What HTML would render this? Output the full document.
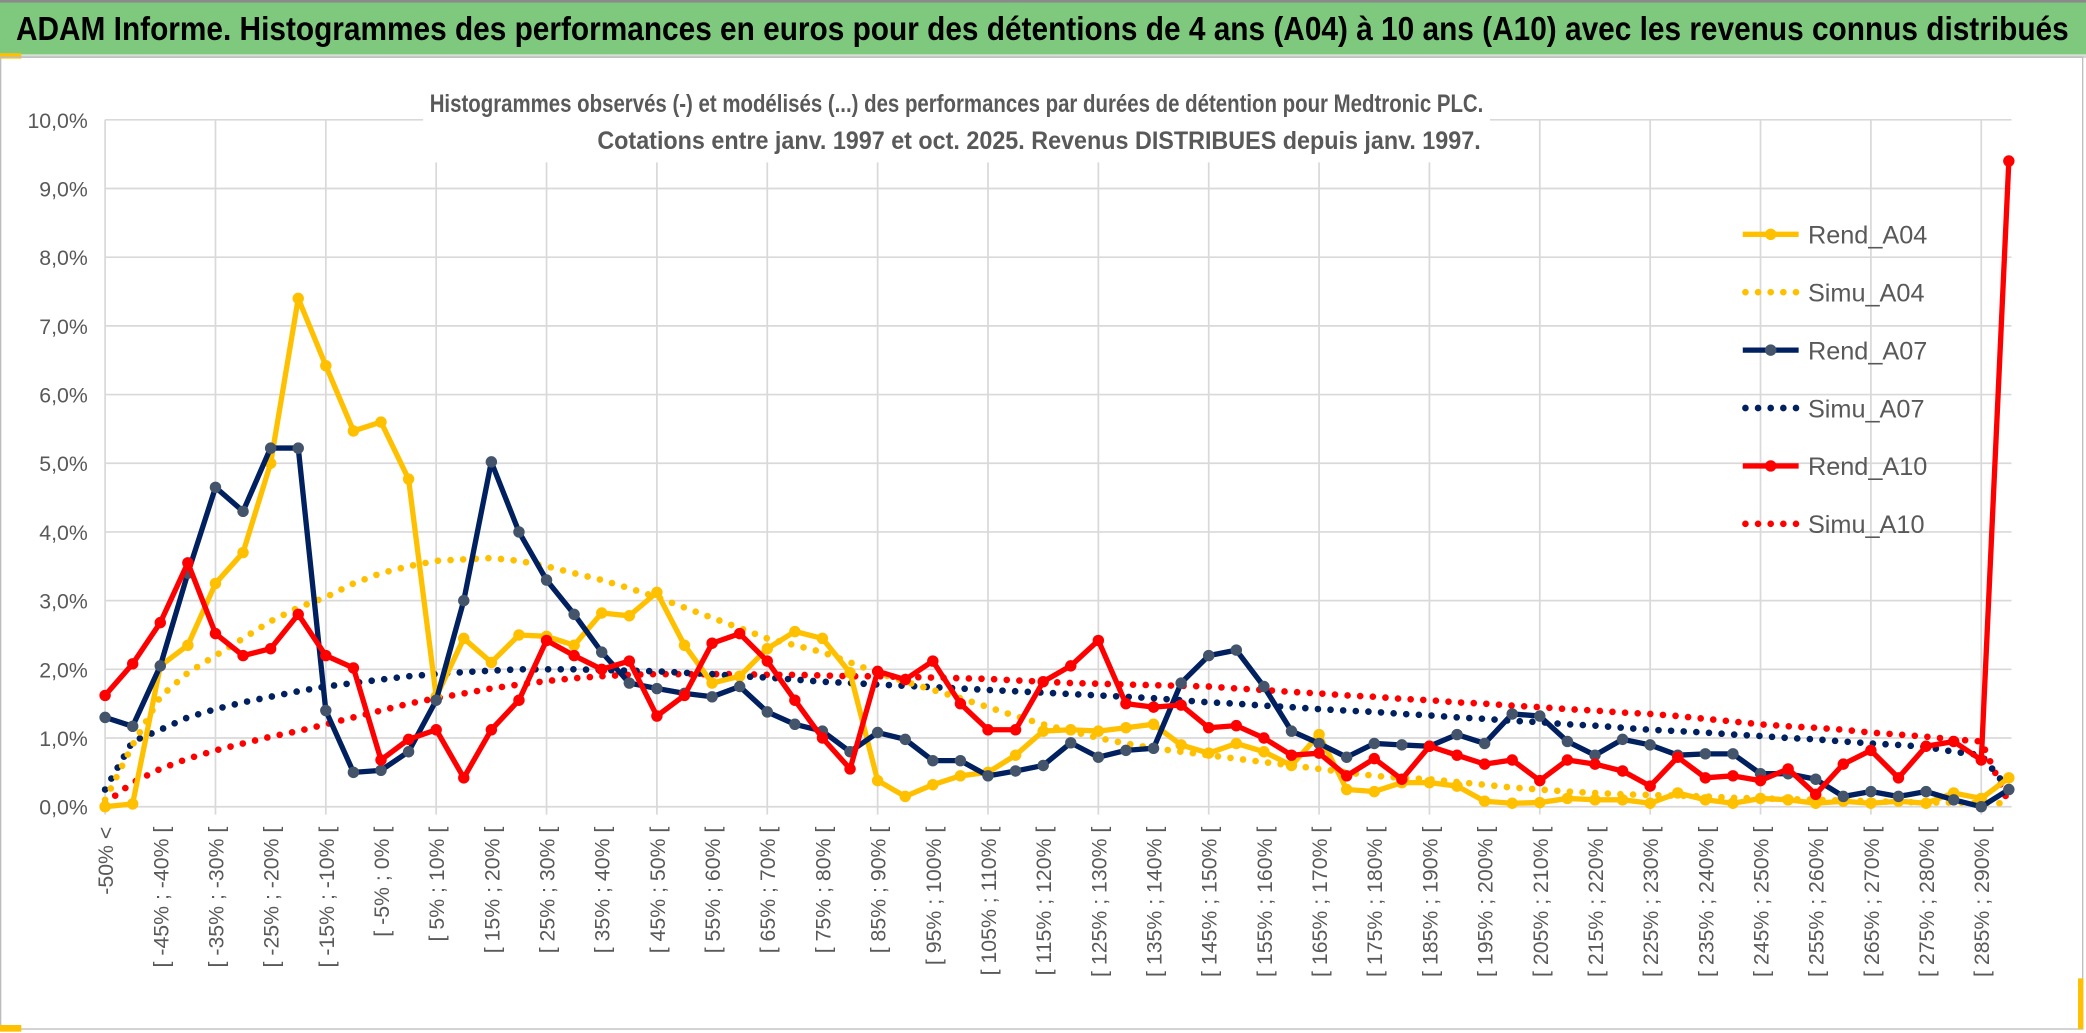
<!DOCTYPE html>
<html><head><meta charset="utf-8"><style>
html,body{margin:0;padding:0;background:#fff;}
svg{display:block;}
text{font-family:"Liberation Sans Narrow","Liberation Sans",sans-serif;}
</style></head><body>
<svg id="chart" width="2086" height="1033" viewBox="0 0 1568 776" preserveAspectRatio="none" xmlns="http://www.w3.org/2000/svg">
<rect x="0" y="0" width="1568" height="776" fill="#fff"/>
<rect x="0" y="1" width="1568" height="40" fill="#7FC97F"/>
<line x1="0" y1="1" x2="1568" y2="1" stroke="#8a8a8a" stroke-width="2"/>
<line x1="0" y1="42.5" x2="1568" y2="42.5" stroke="#d0d0d0" stroke-width="2"/>
<rect x="0" y="40" width="16" height="4" fill="#FFC000"/>
<text x="12" y="30" font-size="25" font-weight="bold" fill="#000" textLength="1543" lengthAdjust="spacingAndGlyphs">ADAM Informe. Histogrammes des performances en euros pour des détentions de 4 ans (A04) à 10 ans (A10) avec les revenus connus distribués</text>
<rect x="0.5" y="43" width="1565" height="730" fill="none" stroke="#bdbdbd" stroke-width="1"/>
<rect x="0" y="770" width="16" height="5" fill="#FFC000"/>
<rect x="1562" y="735" width="4" height="38" fill="#FFC000"/>
<g id="grid"></g>
<rect x="318" y="62" width="802" height="60" fill="#fff"/>
<text x="323" y="84" font-size="19" font-weight="bold" fill="#595959" textLength="792" lengthAdjust="spacingAndGlyphs">Histogrammes observés (-) et modélisés (...) des performances par durées de détention pour Medtronic PLC.</text>
<text x="449" y="112" font-size="19" font-weight="bold" fill="#595959" textLength="664" lengthAdjust="spacingAndGlyphs">Cotations entre janv. 1997 et oct. 2025. Revenus DISTRIBUES depuis janv. 1997.</text>
<g id="axes"></g>
<g id="series"></g>
<g id="legend"></g>
</svg>
<script>
const categories = ["-50% <"];
for (let b = -50; b < 295; b += 5) categories.push("[ " + b + "% ; " + (b + 5) + "% [");
const yTicks = [0,1,2,3,4,5,6,7,8,9,10];
const yTickLabels = ["0,0%","1,0%","2,0%","3,0%","4,0%","5,0%","6,0%","7,0%","8,0%","9,0%","10,0%"];
const rendA04 = [0.0,0.04,2.05,2.35,3.25,3.7,5.0,7.4,6.42,5.47,5.6,4.77,1.6,2.45,2.1,2.5,2.48,2.35,2.82,2.78,3.12,2.35,1.8,1.9,2.3,2.55,2.45,1.95,0.38,0.15,0.32,0.45,0.5,0.75,1.1,1.12,1.1,1.15,1.2,0.9,0.78,0.92,0.8,0.6,1.05,0.25,0.22,0.35,0.35,0.3,0.08,0.05,0.06,0.12,0.1,0.1,0.05,0.2,0.1,0.05,0.12,0.1,0.05,0.08,0.05,0.08,0.05,0.2,0.12,0.42];
const simuA04 = [0.1,0.9,1.6,1.95,2.2,2.45,2.7,2.9,3.05,3.25,3.4,3.5,3.58,3.6,3.62,3.58,3.5,3.4,3.3,3.18,3.05,2.9,2.75,2.6,2.45,2.35,2.25,2.1,1.95,1.82,1.7,1.58,1.45,1.32,1.2,1.1,1.0,0.92,0.85,0.8,0.75,0.7,0.65,0.6,0.55,0.5,0.45,0.42,0.4,0.36,0.32,0.28,0.25,0.22,0.2,0.18,0.17,0.16,0.15,0.13,0.12,0.11,0.1,0.09,0.08,0.07,0.06,0.06,0.05,0.05];
const rendA07 = [1.3,1.17,2.05,3.4,4.65,4.3,5.22,5.22,1.4,0.5,0.53,0.8,1.55,3.0,5.02,4.0,3.3,2.8,2.25,1.8,1.72,1.65,1.6,1.75,1.38,1.2,1.1,0.8,1.08,0.98,0.67,0.67,0.45,0.52,0.6,0.93,0.72,0.82,0.85,1.8,2.2,2.28,1.75,1.1,0.92,0.72,0.92,0.9,0.88,1.05,0.92,1.35,1.32,0.95,0.75,0.98,0.9,0.75,0.77,0.77,0.48,0.48,0.4,0.15,0.22,0.15,0.22,0.1,0.0,0.25];
const simuA07 = [0.25,0.95,1.12,1.3,1.42,1.52,1.6,1.68,1.75,1.8,1.85,1.9,1.93,1.96,1.98,2.0,2.0,2.0,1.99,1.98,1.97,1.95,1.93,1.9,1.88,1.85,1.82,1.8,1.78,1.76,1.74,1.72,1.7,1.68,1.66,1.64,1.62,1.6,1.58,1.55,1.52,1.5,1.47,1.45,1.42,1.4,1.38,1.35,1.33,1.3,1.28,1.25,1.23,1.2,1.18,1.15,1.12,1.1,1.08,1.05,1.03,1.0,0.98,0.95,0.92,0.9,0.87,0.8,0.75,0.25];
const rendA10 = [1.62,2.08,2.68,3.55,2.52,2.2,2.3,2.8,2.2,2.02,0.68,0.98,1.12,0.42,1.12,1.55,2.42,2.2,2.0,2.12,1.32,1.62,2.38,2.52,2.12,1.55,1.0,0.55,1.97,1.85,2.12,1.5,1.12,1.12,1.82,2.05,2.42,1.5,1.45,1.48,1.15,1.18,1.0,0.75,0.78,0.45,0.7,0.4,0.88,0.75,0.62,0.68,0.38,0.68,0.62,0.52,0.3,0.72,0.42,0.45,0.38,0.55,0.18,0.62,0.82,0.42,0.88,0.95,0.68,9.4];
const simuA10 = [0.05,0.35,0.55,0.7,0.82,0.92,1.02,1.1,1.2,1.3,1.4,1.5,1.58,1.65,1.72,1.78,1.83,1.87,1.9,1.92,1.93,1.93,1.93,1.93,1.92,1.92,1.91,1.9,1.9,1.89,1.88,1.87,1.86,1.84,1.82,1.8,1.79,1.78,1.77,1.76,1.75,1.72,1.7,1.67,1.65,1.62,1.6,1.57,1.55,1.52,1.5,1.47,1.45,1.42,1.4,1.37,1.35,1.32,1.28,1.24,1.2,1.17,1.15,1.12,1.08,1.05,1.02,0.98,0.95,0.05];
const seriesNames = ["Rend_A04","Simu_A04","Rend_A07","Simu_A07","Rend_A10","Simu_A10"];

const NS = "http://www.w3.org/2000/svg";
const X0 = 79, X1 = 1510, Y0 = 606, Y10 = 90;
const n = categories.length;
const xPos = i => X0 + i * (X1 - X0) / (n - 1);
const yPos = v => Y0 - (v / 10) * (Y0 - Y10);
function mk(tag, attrs, parent) { const e = document.createElementNS(NS, tag); for (const k in attrs) e.setAttribute(k, attrs[k]); parent.appendChild(e); return e; }

const grid = document.getElementById('grid');
yTicks.forEach((t, i) => {
  const l = mk('line', {x1: X0, x2: 1512, y1: yPos(t), y2: yPos(t), stroke: '#d9d9d9', 'stroke-width': 1.3}, grid);
  
  
});
for (let i = 0; i < n; i += 4) {
  const l = mk('line', {x1: xPos(i), x2: xPos(i), y1: Y10, y2: Y0 + 6, stroke: '#d9d9d9', 'stroke-width': 1.3}, grid);
  
  
}
const axes = document.getElementById('axes');
yTicks.forEach((t, i) => {
  const tx = mk('text', {x: 66, y: yPos(t) + 6, 'text-anchor': 'end', 'font-size': 16, fill: '#595959'}, axes);
  tx.textContent = yTickLabels[i];
  
  
});
for (let i = 0; i < n; i += 2) {
  const x = xPos(i) + 6;
  const tx = mk('text', {x: x, y: 621, transform: 'rotate(-90 ' + x + ' 621)', 'text-anchor': 'end', 'font-size': 16, fill: '#595959', 'font-family': '"Liberation Sans",sans-serif'}, axes);
  tx.textContent = categories[i];
  
  
}

const ser = document.getElementById('series');
function pts(arr) { return arr.map((v, i) => xPos(i).toFixed(1) + ',' + yPos(v).toFixed(1)).join(' '); }
function dotted(arr, color, name) {
  const p = mk('polyline', {points: pts(arr), fill: 'none', stroke: color, 'stroke-width': 5, 'stroke-linecap': 'round', 'stroke-dasharray': '0 9.5'}, ser);
  
  
}
function solid(arr, color, mcolor, name) {
  const g = mk('g', {}, ser);
  
  
  mk('polyline', {points: pts(arr), fill: 'none', stroke: color, 'stroke-width': 4, 'stroke-linejoin': 'round'}, g);
  arr.forEach((v, i) => {
    const c = mk('circle', {cx: xPos(i), cy: yPos(v), r: 4.3, fill: mcolor}, g);
    
    
  });
}
dotted(simuA10, '#FF0000', 'simu-a10-line');
dotted(simuA07, '#002060', 'simu-a07-line');
dotted(simuA04, '#FFC000', 'simu-a04-line');
solid(rendA04, '#FFC000', '#FFC000', 'rend-a04');
solid(rendA07, '#002060', '#44546A', 'rend-a07');
solid(rendA10, '#FF0000', '#FF0000', 'rend-a10');

const leg = document.getElementById('legend');
const legColors = ['#FFC000','#FFC000','#002060','#002060','#FF0000','#FF0000'];
seriesNames.forEach((s, i) => {
  const y = 176 + i * 43.5;
  const g = mk('g', {}, leg);
  
  
  if (i % 2 === 0) {
    mk('line', {x1: 1310, x2: 1352, y1: y, y2: y, stroke: legColors[i], 'stroke-width': 4}, g);
    mk('circle', {cx: 1331, cy: y, r: 4.3, fill: i === 2 ? '#44546A' : legColors[i]}, g);
  } else {
    mk('line', {x1: 1312, x2: 1352, y1: y, y2: y, stroke: legColors[i], 'stroke-width': 5, 'stroke-linecap': 'round', 'stroke-dasharray': '0 9.5'}, g);
  }
  const t = mk('text', {x: 1359, y: y + 7, 'font-size': 19, fill: '#595959'}, g);
  t.textContent = s;
});
</script>
</body></html>
